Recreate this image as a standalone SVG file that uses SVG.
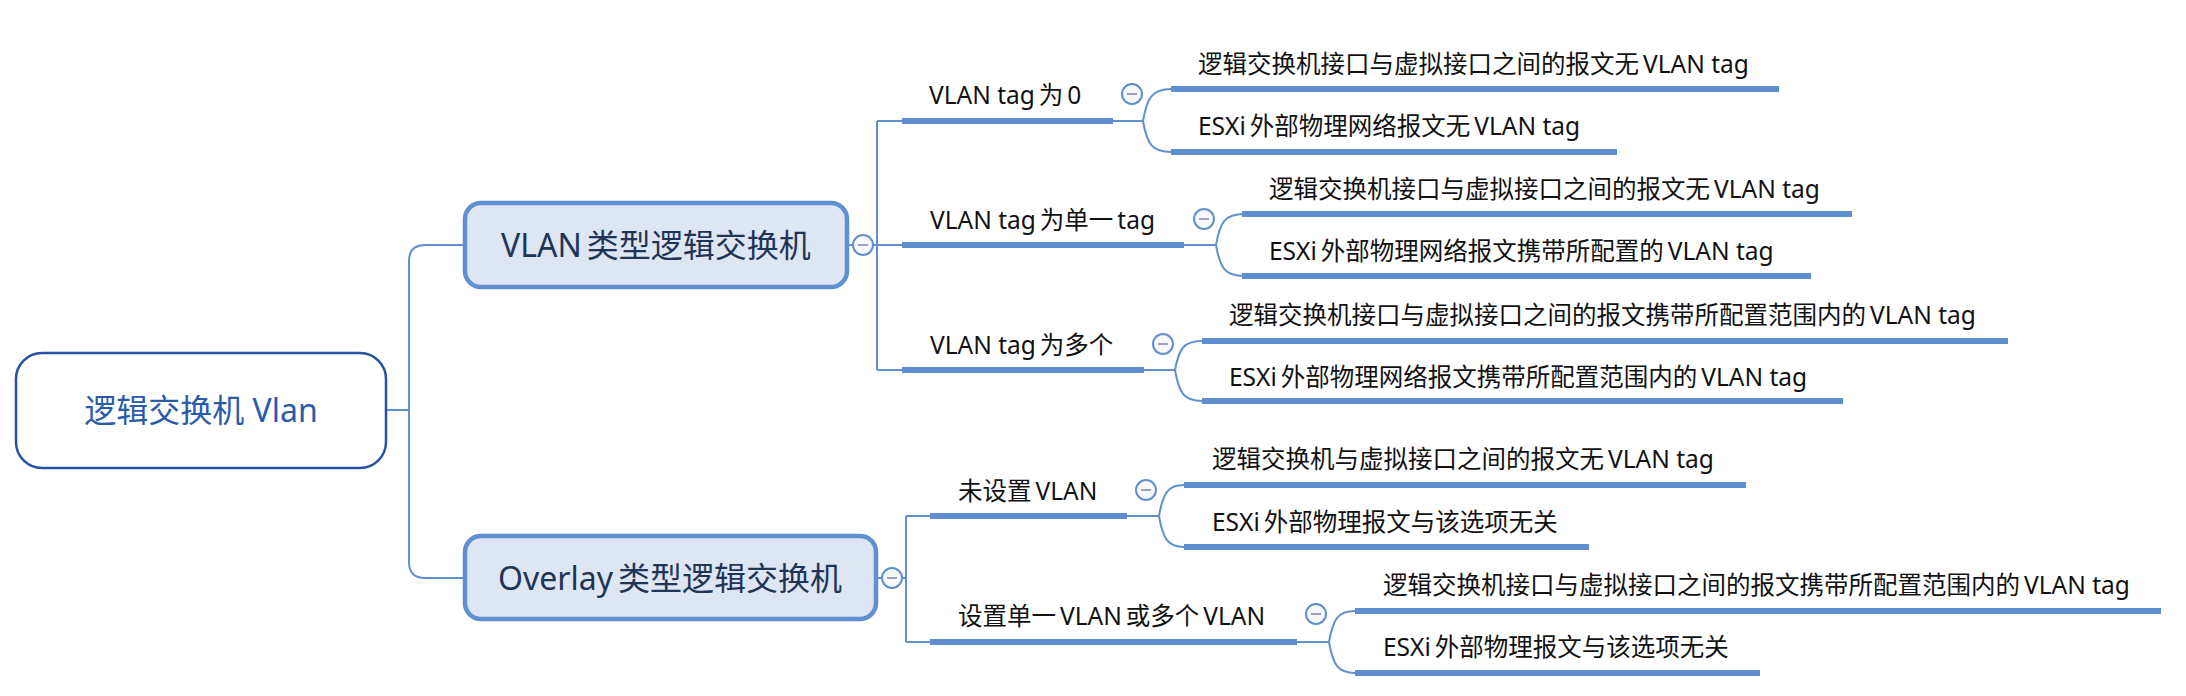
<svg xmlns="http://www.w3.org/2000/svg" width="2186" height="696" viewBox="0 0 2186 696">
<style>
text{font-family:"Noto Sans","Noto Sans CJK SC",sans-serif;}
.root{fill:#fff;stroke:#2552a3;stroke-width:2.5;}
.rt{font-size:32px;fill:#2a5bab;text-anchor:middle;}
.l1{fill:#dde6f2;stroke:#6190d0;stroke-width:4.5;}
.t1{font-size:32px;fill:#1e3557;text-anchor:middle;}
.t2{font-size:24.5px;fill:#111;}
.bar{stroke:#5f8ecf;stroke-width:6;fill:none;}
.cn{stroke:#6190d0;stroke-width:2;fill:none;}
.btn{fill:#f7f8fb;stroke:#6190d0;stroke-width:2;}
.mi{stroke:#9aa3c6;stroke-width:2;}
</style>
<rect width="2186" height="696" fill="#fff"/>
<g id="connectors">
<path class="cn" d="M386,410 H409 M465,245 H425 Q409,245 409,261 V562 Q409,578 425,578 H465"/>
<path class="cn" d="M847,245 H853 M873,245 H902 M877,121 V370 M877,121 H902 M877,370 H902"/>
<path class="cn" d="M876,578 H882 M902,578 H906 M906,516 V642 M906,516 H930 M906,642 H930"/>
<path class="cn" d="M1113,121 H1143 M1143,121 C1147,98 1152,89 1171,89 M1143,121 C1147,144 1152,152 1171,152"/>
<path class="cn" d="M1184,245 H1216 M1216,245 C1220,222 1225,214 1244,214 M1216,245 C1220,268 1225,276 1244,276"/>
<path class="cn" d="M1144,370 H1175 M1175,370 C1179,348 1184,341 1202,341 M1175,370 C1179,393 1184,401 1202,401"/>
<path class="cn" d="M1127,516 H1159 M1159,516 C1163,493 1168,485 1184,485 M1159,516 C1163,539 1168,547 1184,547"/>
<path class="cn" d="M1297,642 H1329 M1329,642 C1333,619 1338,611 1355,611 M1329,642 C1333,665 1338,673 1355,673"/>
</g>
<g id="root">
<rect class="root" x="16" y="353" width="370" height="115" rx="26"/>
<text class="rt" x="201" y="422">逻辑交换机 Vlan</text>
</g>
<g id="vlan-switch">
<rect class="l1" x="465" y="203" width="382" height="84" rx="16"/>
<text class="t1" x="656" y="257">VLAN<tspan dx="5">类型逻辑交换机</tspan></text>
<circle class="btn" cx="863" cy="245" r="10"/><line class="mi" x1="858" y1="245" x2="868" y2="245"/>
</g>
<g id="overlay-switch">
<rect class="l1" x="465" y="536" width="411" height="83" rx="16"/>
<text class="t1" x="670" y="590">Overlay<tspan dx="5">类型逻辑交换机</tspan></text>
<circle class="btn" cx="892" cy="578" r="10"/><line class="mi" x1="887" y1="578" x2="897" y2="578"/>
</g>
<g id="tag0">
<text class="t2" x="929" y="104">VLAN tag<tspan dx="4">为</tspan><tspan dx="4">0</tspan></text>
<line class="bar" x1="902" y1="121" x2="1113" y2="121"/>
<circle class="btn" cx="1132" cy="94" r="10"/><line class="mi" x1="1127" y1="94" x2="1137" y2="94"/>
</g>
<g id="tag0-a">
<text class="t2" x="1198" y="73">逻辑交换机接口与虚拟接口之间的报文无<tspan dx="4">VLAN tag</tspan></text>
<line class="bar" x1="1171" y1="89" x2="1779" y2="89"/>
</g>
<g id="tag0-b">
<text class="t2" x="1198" y="135">ESXi<tspan dx="4">外部物理网络报文无</tspan><tspan dx="4">VLAN tag</tspan></text>
<line class="bar" x1="1171" y1="152" x2="1617" y2="152"/>
</g>
<g id="tag-single">
<text class="t2" x="930" y="229">VLAN tag<tspan dx="4">为单一</tspan><tspan dx="4">tag</tspan></text>
<line class="bar" x1="902" y1="245" x2="1184" y2="245"/>
<circle class="btn" cx="1204" cy="219" r="10"/><line class="mi" x1="1199" y1="219" x2="1209" y2="219"/>
</g>
<g id="tag-single-a">
<text class="t2" x="1269" y="198">逻辑交换机接口与虚拟接口之间的报文无<tspan dx="4">VLAN tag</tspan></text>
<line class="bar" x1="1242" y1="214" x2="1852" y2="214"/>
</g>
<g id="tag-single-b">
<text class="t2" x="1269" y="260">ESXi<tspan dx="4">外部物理网络报文携带所配置的</tspan><tspan dx="4">VLAN tag</tspan></text>
<line class="bar" x1="1242" y1="276" x2="1811" y2="276"/>
</g>
<g id="tag-multi">
<text class="t2" x="930" y="354">VLAN tag<tspan dx="4">为多个</tspan></text>
<line class="bar" x1="902" y1="370" x2="1144" y2="370"/>
<circle class="btn" cx="1163" cy="344" r="10"/><line class="mi" x1="1158" y1="344" x2="1168" y2="344"/>
</g>
<g id="tag-multi-a">
<text class="t2" x="1229" y="324">逻辑交换机接口与虚拟接口之间的报文携带所配置范围内的<tspan dx="4">VLAN tag</tspan></text>
<line class="bar" x1="1202" y1="341" x2="2008" y2="341"/>
</g>
<g id="tag-multi-b">
<text class="t2" x="1229" y="386">ESXi<tspan dx="4">外部物理网络报文携带所配置范围内的</tspan><tspan dx="4">VLAN tag</tspan></text>
<line class="bar" x1="1202" y1="401" x2="1843" y2="401"/>
</g>
<g id="no-vlan">
<text class="t2" x="958" y="500">未设置<tspan dx="4">VLAN</tspan></text>
<line class="bar" x1="930" y1="516" x2="1127" y2="516"/>
<circle class="btn" cx="1146" cy="490" r="10"/><line class="mi" x1="1141" y1="490" x2="1151" y2="490"/>
</g>
<g id="no-vlan-a">
<text class="t2" x="1212" y="468">逻辑交换机与虚拟接口之间的报文无<tspan dx="4">VLAN tag</tspan></text>
<line class="bar" x1="1184" y1="485" x2="1746" y2="485"/>
</g>
<g id="no-vlan-b">
<text class="t2" x="1212" y="531">ESXi<tspan dx="4">外部物理报文与该选项无关</tspan></text>
<line class="bar" x1="1184" y1="547" x2="1589" y2="547"/>
</g>
<g id="set-vlan">
<text class="t2" x="958" y="625">设置单一<tspan dx="4">VLAN</tspan><tspan dx="4">或多个</tspan><tspan dx="4">VLAN</tspan></text>
<line class="bar" x1="930" y1="642" x2="1297" y2="642"/>
<circle class="btn" cx="1316" cy="614" r="10"/><line class="mi" x1="1311" y1="614" x2="1321" y2="614"/>
</g>
<g id="set-vlan-a">
<text class="t2" x="1383" y="594">逻辑交换机接口与虚拟接口之间的报文携带所配置范围内的<tspan dx="4">VLAN tag</tspan></text>
<line class="bar" x1="1355" y1="611" x2="2161" y2="611"/>
</g>
<g id="set-vlan-b">
<text class="t2" x="1383" y="656">ESXi<tspan dx="4">外部物理报文与该选项无关</tspan></text>
<line class="bar" x1="1355" y1="673" x2="1760" y2="673"/>
</g>
</svg>
